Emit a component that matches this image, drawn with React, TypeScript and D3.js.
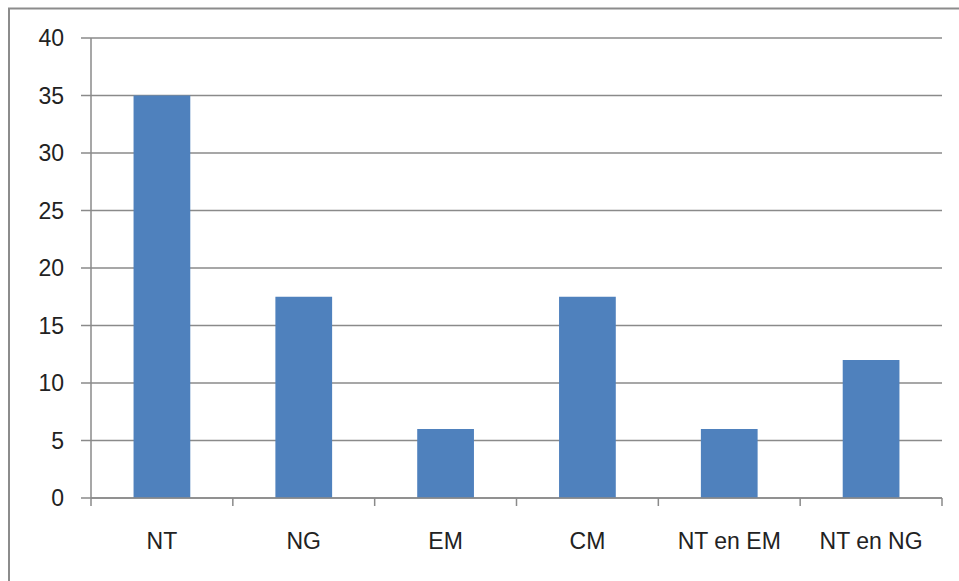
import React from "react";
import * as d3 from "d3";

const categories = ["NT", "NG", "EM", "CM", "NT en EM", "NT en NG"];
const values = [35, 17.5, 6, 17.5, 6, 12];
const yTicks = [0, 5, 10, 15, 20, 25, 30, 35, 40];

const W = 959;
const H = 581;
const plot = { left: 91, right: 942, top: 38, bottom: 498 };
const FONT = "'Liberation Sans', Arial, sans-serif";

export default function App() {
  const x = d3
    .scaleBand<string>()
    .domain(categories)
    .range([plot.left, plot.right])
    .paddingInner(0.6)
    .paddingOuter(0.3);
  const band = d3.scaleBand<string>().domain(categories).range([plot.left, plot.right]);
  const y = d3.scaleLinear().domain([0, 40]).range([plot.bottom, plot.top]);

  return (
    <svg
      width={W}
      height={H}
      style={{ position: "absolute", left: 0, top: 0, display: "block" }}
    >
      <rect x={0} y={0} width={W} height={H} fill="#ffffff" />
      {/* chart frame */}
      <rect x={9} y={8.5} width={960} height={600} fill="none" stroke="#8c8c8c" strokeWidth={2} />

      {/* gridlines and y labels */}
      {yTicks.map((t) => (
        <g key={t}>
          <line
            x1={plot.left - 10}
            x2={plot.right}
            y1={y(t)}
            y2={y(t)}
            stroke="#8a8a8a"
            strokeWidth={1.5}
          />
          <text
            x={64}
            y={y(t)}
            dy="0.36em"
            textAnchor="end"
            fontFamily={FONT}
            fontSize={23}
            fill="#222222"
          >
            {t}
          </text>
        </g>
      ))}

      {/* bars */}
      {categories.map((c, i) => (
        <rect
          key={c}
          x={x(c)}
          y={y(values[i])}
          width={x.bandwidth()}
          height={y(0) - y(values[i])}
          fill="#4f81bd"
        />
      ))}

      {/* axes */}
      <line x1={plot.left} x2={plot.left} y1={plot.top} y2={plot.bottom} stroke="#8a8a8a" strokeWidth={1.5} />
      <line x1={plot.left} x2={plot.right} y1={plot.bottom} y2={plot.bottom} stroke="#8a8a8a" strokeWidth={1.5} />
      {[...categories.map((c) => band(c) as number), plot.right].map((tx, i) => (
        <line key={i} x1={tx} x2={tx} y1={plot.bottom} y2={plot.bottom + 8} stroke="#8a8a8a" strokeWidth={1.5} />
      ))}

      {/* category labels */}
      {categories.map((c) => (
        <text
          key={c}
          x={(band(c) as number) + band.bandwidth() / 2}
          y={549}
          textAnchor="middle"
          fontFamily={FONT}
          fontSize={23}
          fill="#222222"
        >
          {c}
        </text>
      ))}
    </svg>
  );
}
